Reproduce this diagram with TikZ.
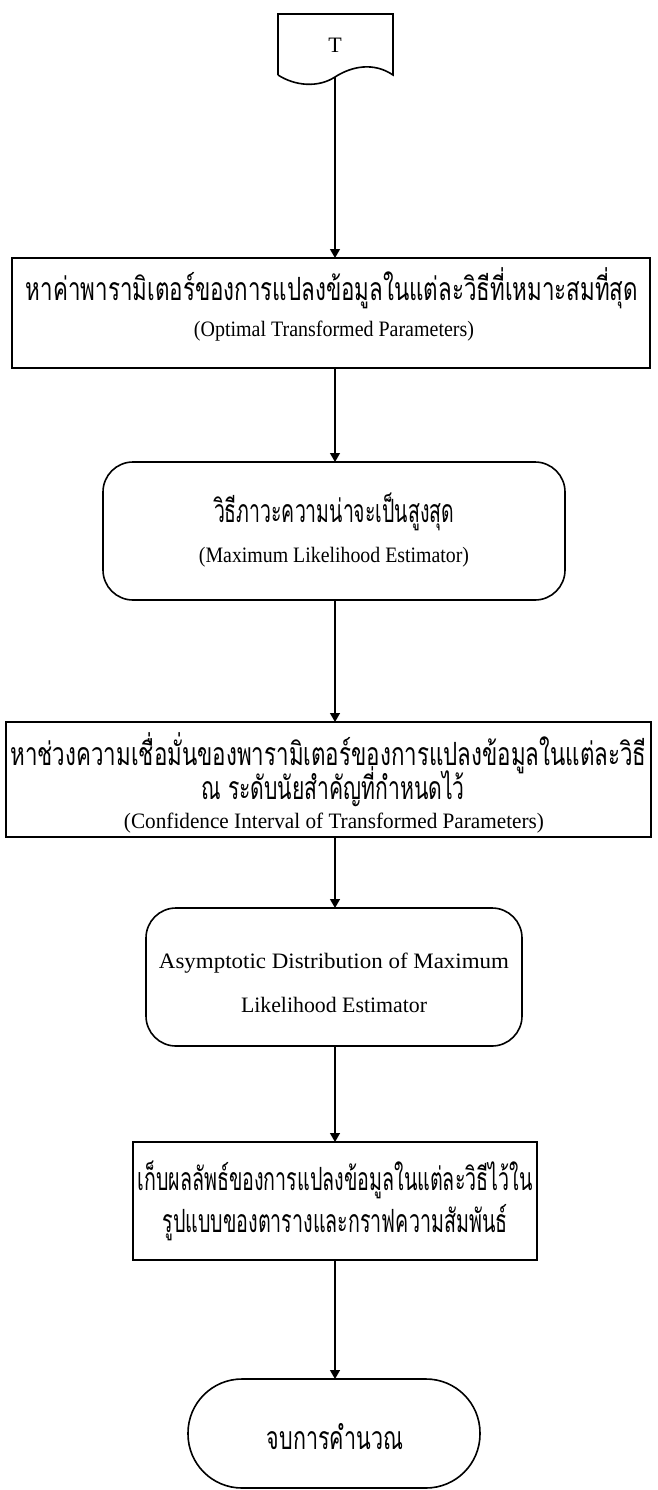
\documentclass[tikz,border=0pt]{standalone}
\usepackage{fontspec}
\usepackage{graphicx}
\setmainfont{Liberation Serif}
\newfontfamily\thaifont[Script=Thai,FakeStretch=0.66]{Loma}
\usetikzlibrary{arrows.meta}
% set one line of text to a given width, keeping its height
\newcommand{\linew}[2]{\resizebox{#1pt}{\height}{#2}}

\begin{document}
\begin{tikzpicture}[x=1pt,y=-1pt,
  every node/.style={inner sep=0pt,outer sep=0pt,font=\fontsize{22}{30}\selectfont,align=center},
  procbox/.style={draw,line width=1.6pt,rectangle},
  roundbox/.style={draw,line width=1.6pt,rectangle,rounded corners=30pt},
  termbox/.style={draw,line width=1.6pt,rectangle,rounded corners=54pt},
  flow/.style={line width=1.3pt,-{Triangle[width=10pt,length=9pt]}},
  th/.style={font=\thaifont\fontsize{32}{40}\selectfont}
]
\useasboundingbox (0,0) rectangle (657,1490);

% off-page connector (document symbol)
\draw[line width=1.6pt] (278,75) -- (278,14) -- (393,14) -- (393,75)
  .. controls (374,62) and (352,66) .. (335,77)
  .. controls (318,88) and (295,86) .. (278,75);
\node (T) at (335,45) {T};
\coordinate (Tb) at (335,77);

\node[procbox,minimum width=638pt,minimum height=110pt] (b1) at (331,313) {};
\node[th,anchor=base] at (332,300) {\linew{612}{หาค่าพารามิเตอร์ของการแปลงข้อมูลในแต่ละวิธีที่เหมาะสมที่สุด}};
\node[anchor=base] at (334,336) {\linew{280}{(Optimal Transformed Parameters)}};

\node[roundbox,minimum width=462pt,minimum height=138pt] (b2) at (334,531) {};
\node[th,anchor=base] at (334,522) {\linew{240}{วิธีภาวะความน่าจะเป็นสูงสุด}};
\node[anchor=base] at (334,562) {\linew{270}{(Maximum Likelihood Estimator)}};

\node[procbox,minimum width=645pt,minimum height=115pt] (b3) at (328.5,779.5) {};
\node[th,anchor=base] at (328.5,765) {\linew{636}{หาช่วงความเชื่อมั่นของพารามิเตอร์ของการแปลงข้อมูลในแต่ละวิธี}};
\node[th,anchor=base] at (333,799) {ณ ระดับนัยสำคัญที่กำหนดไว้};
\node[anchor=base] at (334,828) {\linew{420}{(Confidence Interval of Transformed Parameters)}};

\node[roundbox,minimum width=376pt,minimum height=138pt] (b4) at (334,977) {};
\node[anchor=base] at (334,968) {\linew{350}{Asymptotic Distribution of Maximum}};
\node[anchor=base] at (334,1012) {\linew{186}{Likelihood Estimator}};

\node[procbox,minimum width=404pt,minimum height=118pt] (b5) at (335,1201) {};
\node[th,anchor=base] at (335,1190) {\linew{395}{เก็บผลลัพธ์ของการแปลงข้อมูลในแต่ละวิธีไว้ใน}};
\node[th,anchor=base] at (335,1232) {\linew{345}{รูปแบบของตารางและกราฟความสัมพันธ์}};

\node[termbox,minimum width=292pt,minimum height=109pt] (b6) at (334,1433.5) {};
\node[th,anchor=base] at (335,1449) {\linew{136}{จบการคำนวณ}};

\draw[flow] (Tb) -- (b1.north -| Tb);
\draw[flow] (b1.south -| Tb) -- (b2.north -| Tb);
\draw[flow] (b2.south -| Tb) -- (b3.north -| Tb);
\draw[flow] (b3.south -| Tb) -- (b4.north -| Tb);
\draw[flow] (b4.south -| Tb) -- (b5.north -| Tb);
\draw[flow] (b5.south -| Tb) -- (b6.north -| Tb);
\end{tikzpicture}
\end{document}
